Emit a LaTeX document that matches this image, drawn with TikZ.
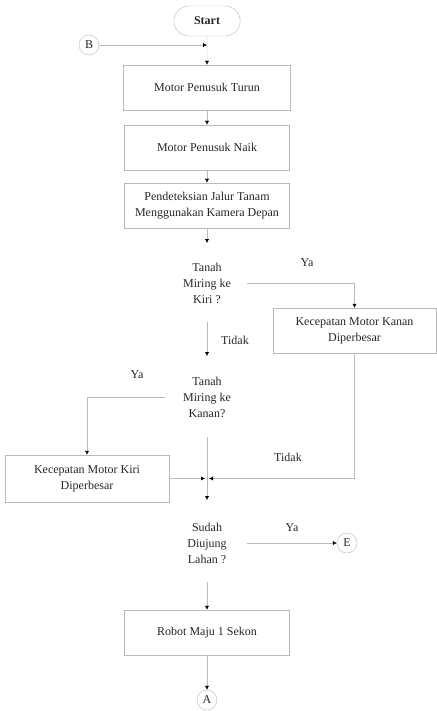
\documentclass[tikz,border=0pt]{standalone}
\usepackage{fontspec}
\setmainfont{Liberation Serif}
\usepackage{tikz}
\usetikzlibrary{
  arrows.meta,
  shapes.misc
}
\colorlet{flowline}{gray!55}
\colorlet{flowtext}{black!85}
\newcommand\flowfont{\fontsize{12}{16}\selectfont}
\tikzset{
  proc/.style={draw=flowline,thin,minimum width=165pt,minimum height=45pt,
    align=center,text=flowtext},
  term/.style={draw=flowline,thin,rounded rectangle,minimum width=73pt,
    minimum height=30pt,font=\flowfont\bfseries,text=flowtext},
  conn/.style={draw=flowline,thin,circle,minimum size=20pt,inner sep=0pt,
    text=flowtext},
  decide/.style={align=center,text=flowtext},
  lbl/.style={text=flowtext},
  flow/.style={draw=flowline,thin,-{Latex[black,length=4pt,width=4pt]}},
  plain/.style={draw=flowline,thin}
}

\begin{document}
\begin{tikzpicture}[x=1pt,y=-1pt,font=\flowfont]
\useasboundingbox (0,0) rectangle (436,711);
\node[term] (start) at (207,21) {Start};
\node[conn] (B) at (89,45) {B};
\node[proc,minimum width=167pt] (turun) at (207,87.5) {Motor Penusuk Turun};
\node[proc] (naik) at (207,147.5) {Motor Penusuk Naik};
\node[proc] (deteksi) at (207,205.5) {Pendeteksian Jalur Tanam\\Menggunakan Kamera Depan};
\node[decide] (kiri) at (207,283) {Tanah\\Miring ke\\Kiri ?};
\node[proc,minimum width=163pt] (kanancepat) at (354.5,330.5) {Kecepatan Motor Kanan\\Diperbesar};
\node[decide] (kanan) at (207,397) {Tanah\\Miring ke\\Kanan?};
\node[proc,minimum width=164pt,minimum height=47pt] (kiricepat) at (87,478.5) {Kecepatan Motor Kiri\\Diperbesar};
\node[decide] (ujung) at (207,543) {Sudah\\Diujung\\Lahan ?};
\node[conn] (E) at (347,543) {E};
\node[proc] (maju) at (207,632.5) {Robot Maju 1 Sekon};
\node[conn] (A) at (207,700) {A};

\coordinate (kiritop) at (207,243);
\coordinate (kiriya) at (247,283);
\coordinate (kiritidak) at (207,322);
\coordinate (kanantop) at (207,356);
\coordinate (kananya) at (165,397);
\coordinate (kanantidak) at (207,437);
\coordinate (gabung) at (207,478.5);
\coordinate (ujungtop) at (207,500);
\coordinate (ujungya) at (247,543);
\coordinate (ujungtidak) at (207,582);

\draw[flow] (B) -- (B -| start);
\draw[flow] (start) -- (turun);
\draw[flow] (turun) -- (naik);
\draw[flow] (naik) -- (deteksi);
\draw[flow] (deteksi) -- (kiritop);
\draw[flow] (kiriya) -| (kanancepat);
\draw[flow] (kiritidak) -- (kanantop);
\draw[flow] (kananya) -| (kiricepat);
\draw[plain] (kanantidak) -- (gabung);
\draw[flow] (gabung) -- (ujungtop);
\draw[flow] (kiricepat) -- ([xshift=-2pt]gabung);
\draw[flow] (kanancepat) |- ([xshift=2pt]gabung);
\draw[flow] (ujungya) -- (E);
\draw[flow] (ujungtidak) -- (maju);
\draw[flow] (maju) -- (A);

\node[lbl] (ya1) at (307,263) {Ya};
\node[lbl] (tidak1) at (235,340) {Tidak};
\node[lbl] (ya2) at (137,375) {Ya};
\node[lbl] (tidak2) at (288,457) {Tidak};
\node[lbl] (ya3) at (292,528) {Ya};
\end{tikzpicture}
\end{document}
